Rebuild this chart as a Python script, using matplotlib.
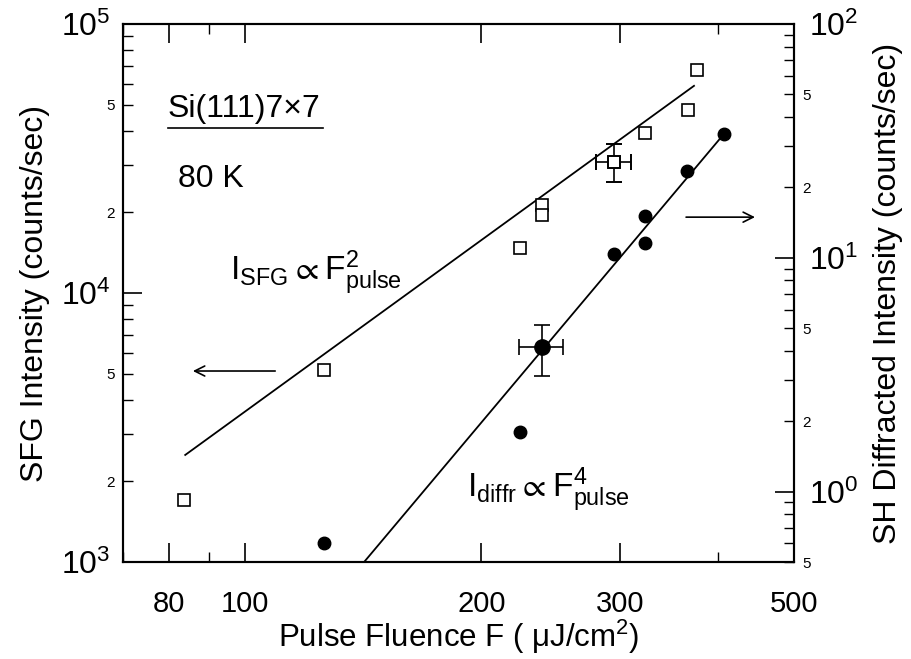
import matplotlib
matplotlib.use('Agg')
import matplotlib.pyplot as plt
from matplotlib.ticker import FixedLocator, FixedFormatter, NullFormatter

plt.rcParams['font.family'] = ['Liberation Sans', 'DejaVu Sans']
plt.rcParams['mathtext.fontset'] = 'custom'
plt.rcParams['mathtext.rm'] = 'Liberation Sans'

# SFG intensity (left axis), open squares
sfg_F = [83.8, 126, 224, 239, 239, 376, 323, 366]
sfg_I = [1700, 5175, 14700, 21200, 19500, 67400, 39300, 47900]
# point with error bars
sfg_err_F = 295
sfg_err_I = 30800
sfg_err_x = [279.5, 309.8]
sfg_err_y = [25940, 35740]
# fit line I_SFG ~ F^2
sfg_fit_F = [84, 373]
sfg_fit_I = [2500, 58900]

# SH diffracted intensity (right axis), filled circles
diffr_F = [126, 224, 295, 323, 323, 365, 407]
diffr_I = [0.605, 1.80, 10.4, 11.6, 15.1, 23.6, 33.8]
diffr_err_F = 239
diffr_err_I = 4.14
diffr_err_x = [223.6, 253.8]
diffr_err_y = [3.11, 5.14]
# fit line I_diffr ~ F^4
diffr_fit_F = [140, 407]
diffr_fit_I = [0.474, 33.8]

x_major = [80, 100, 200, 300, 500]
x_minor = [70, 90, 400]

fig = plt.figure(figsize=(9.12, 6.59), dpi=100)
ax = fig.add_axes([123 / 912, 1 - 562 / 659, 671 / 912, 538 / 659])
ax2 = ax.twinx()

# left axis data
ax.plot(sfg_fit_F, sfg_fit_I, color='black', lw=1.3)
ax.plot(sfg_F, sfg_I, 's', mfc='white', mec='black', mew=1.2, ms=8.5, ls='none')
ax.errorbar([sfg_err_F], [sfg_err_I],
            xerr=[[sfg_err_F - sfg_err_x[0]], [sfg_err_x[1] - sfg_err_F]],
            yerr=[[sfg_err_I - sfg_err_y[0]], [sfg_err_y[1] - sfg_err_I]],
            fmt='s', mfc='white', mec='black', mew=1.4, ms=9, ecolor='black',
            elinewidth=1.2, capsize=6, capthick=1.2)

# right axis data
ax2.plot(diffr_fit_F, diffr_fit_I, color='black', lw=1.3)
ax2.plot(diffr_F, diffr_I, 'o', color='black', ms=9, ls='none')
ax2.errorbar([diffr_err_F], [diffr_err_I],
             xerr=[[diffr_err_F - diffr_err_x[0]], [diffr_err_x[1] - diffr_err_F]],
             yerr=[[diffr_err_I - diffr_err_y[0]], [diffr_err_y[1] - diffr_err_I]],
             fmt='o', color='black', ms=11, ecolor='black',
             elinewidth=1.2, capsize=6, capthick=1.2)

# scales
ax.set_xscale('log')
ax.set_yscale('log')
ax2.set_yscale('log')
ax.set_xlim(70, 500)
ax.set_ylim(1e3, 1e5)
ax2.set_ylim(0.5, 100)

# x ticks
ax.xaxis.set_major_locator(FixedLocator(x_major))
ax.xaxis.set_major_formatter(FixedFormatter([str(v) for v in x_major]))
ax.xaxis.set_minor_locator(FixedLocator(x_minor))
ax.xaxis.set_minor_formatter(NullFormatter())

# left y ticks
ly_major = [1e3, 1e4, 1e5]
ly_minor = [m * 10 ** d for d in (3, 4) for m in range(2, 10)]
ax.yaxis.set_major_locator(FixedLocator(ly_major))
ax.yaxis.set_major_formatter(FixedFormatter([r'$\mathregular{10^{3}}$', r'$\mathregular{10^{4}}$', r'$\mathregular{10^{5}}$']))
ax.yaxis.set_minor_locator(FixedLocator(ly_minor))
ax.yaxis.set_minor_formatter(FixedFormatter(['2' if m == 2 else '5' if m == 5 else ''
                                             for d in (3, 4) for m in range(2, 10)]))

# right y ticks
ry_major = [1, 10, 100]
ry_minor = [0.5, 0.6, 0.7, 0.8, 0.9] + [m * 10 ** d for d in (0, 1) for m in range(2, 10)]
ry_minor_lab = ['5', '', '', '', ''] + ['2' if m == 2 else '5' if m == 5 else ''
                                        for d in (0, 1) for m in range(2, 10)]
ax2.yaxis.set_major_locator(FixedLocator(ry_major))
ax2.yaxis.set_major_formatter(FixedFormatter([r'$\mathregular{10^{0}}$', r'$\mathregular{10^{1}}$', r'$\mathregular{10^{2}}$']))
ax2.yaxis.set_minor_locator(FixedLocator(ry_minor))
ax2.yaxis.set_minor_formatter(FixedFormatter(ry_minor_lab))

# tick appearance
ax.tick_params(axis='x', which='both', direction='in', top=True, labelsize=21, pad=20)
ax.tick_params(axis='x', which='major', length=14, width=1.2)
ax.tick_params(axis='x', which='minor', length=7, width=1.0)
ax.tick_params(axis='y', which='both', direction='in', right=False)
ax.tick_params(axis='y', which='major', length=14, width=1.2, labelsize=23, pad=9)
ax.tick_params(axis='y', which='minor', length=7, width=1.0, labelsize=11, pad=6)
ax2.tick_params(axis='y', which='both', direction='in')
ax2.tick_params(axis='y', which='major', length=14, width=1.2, labelsize=23, pad=11)
ax2.tick_params(axis='y', which='minor', length=7, width=1.0, labelsize=11, pad=6)
for a in (ax, ax2):
    for s in a.spines.values():
        s.set_linewidth(1.5)

ax.set_xlabel(r'Pulse Fluence F ( $\mathregular{\mu}$J/cm$\mathregular{^2}$)', fontsize=22.5, labelpad=0)
ax.set_ylabel('SFG Intensity (counts/sec)', fontsize=23, labelpad=8)
ax2.set_ylabel('SH Diffracted Intensity (counts/sec)', fontsize=23, labelpad=10)

# text annotations
ax.text(0.067, 0.827, 'Si(111)7\u00d77', transform=ax.transAxes, fontsize=23, va='baseline')
ax.plot([0.067, 0.298], [0.807, 0.807], transform=ax.transAxes, color='black', lw=1.2)
ax.text(0.082, 0.697, '80 K', transform=ax.transAxes, fontsize=23, va='baseline')
ax.text(0.159, 0.524, r'$\mathregular{I_{SFG} \propto F^{2}_{pulse}}$', transform=ax.transAxes,
        fontsize=24, va='baseline')
ax.text(0.513, 0.121, r'$\mathregular{I_{diffr} \propto F^{4}_{pulse}}$', transform=ax.transAxes,
        fontsize=24, va='baseline')

# arrows
ax.annotate('', xy=(0.100, 0.355), xytext=(0.231, 0.355), xycoords='axes fraction',
            arrowprops=dict(arrowstyle='->', lw=1.2, color='black', mutation_scale=18))
ax.annotate('', xy=(0.946, 0.641), xytext=(0.835, 0.641), xycoords='axes fraction',
            arrowprops=dict(arrowstyle='->', lw=1.2, color='black', mutation_scale=18))

fig.savefig('out.png', dpi=100)
